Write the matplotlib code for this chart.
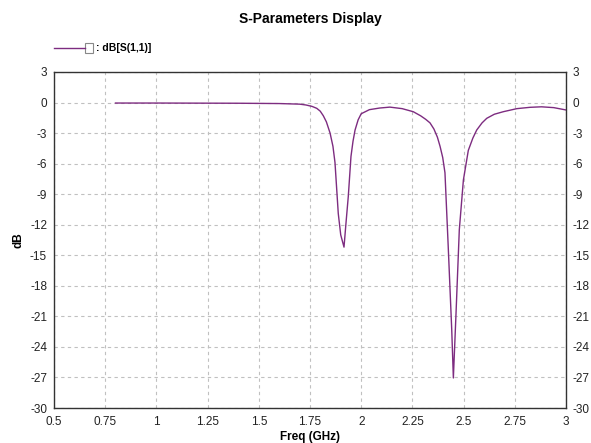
import matplotlib
matplotlib.use("Agg")
import matplotlib.pyplot as plt
from matplotlib.patches import Rectangle

plt.rcParams['font.family'] = ['Liberation Sans', 'DejaVu Sans']
plt.rcParams['axes.unicode_minus'] = False

freq = [0.80, 1.00, 1.20, 1.40, 1.60, 1.70, 1.73, 1.76, 1.783, 1.80, 1.815, 1.83, 1.848, 1.862, 1.872,
        1.888, 1.90, 1.916, 1.925, 1.937, 1.95, 1.96, 1.97, 1.985, 2.00, 2.04, 2.09, 2.14, 2.20, 2.254,
        2.29, 2.315, 2.336, 2.355, 2.372, 2.385, 2.398, 2.409, 2.425, 2.442, 2.45, 2.463, 2.479, 2.499,
        2.523, 2.545, 2.564, 2.59, 2.613, 2.65, 2.694, 2.76, 2.824, 2.88, 2.94, 3.00]
s11_db = [-0.05, -0.05, -0.06, -0.07, -0.1, -0.16, -0.24, -0.38, -0.57, -0.85, -1.3, -1.9, -3.0, -4.3, -5.9,
          -10.9, -13.0, -14.2, -12.0, -9.2, -5.3, -3.8, -2.7, -1.7, -1.1, -0.7, -0.54, -0.45, -0.6, -0.9,
          -1.3, -1.65, -2.0, -2.6, -3.4, -4.3, -5.4, -6.9, -14.2, -22.3, -27.05, -20.7, -12.5, -7.6,
          -4.7, -3.5, -2.7, -2.0, -1.55, -1.15, -0.9, -0.6, -0.47, -0.42, -0.5, -0.73]

xticks = [0.5, 0.75, 1, 1.25, 1.5, 1.75, 2, 2.25, 2.5, 2.75, 3]
xticklabels = ['0.5', '0.75', '1', '1.25', '1.5', '1.75', '2', '2.25', '2.5', '2.75', '3']
yticks = list(range(-30, 4, 3))

fig = plt.figure(figsize=(5.91, 4.43), dpi=100)
ax = fig.add_axes([0.0914, 0.079, 0.8663, 0.7585])
line_color = '#7d2c80'
ax.plot(freq, s11_db, color=line_color, lw=1.0)
ax.set_xlim(0.5, 3)
ax.set_ylim(-30, 3)
ax.set_xticks(xticks)
ax.set_xticklabels(xticklabels)
ax.set_yticks(yticks)
ax.grid(True, color='#c0c0c0', ls=(0, (3, 3)), lw=0.8)
ax.tick_params(axis='both', length=0, labelsize=8.5, colors='#222222', pad=6)
ax.tick_params(axis='y', labelright=True, pad=5)
for s in ['left', 'bottom', 'right', 'top']:
    ax.spines[s].set_color('#333333')
    ax.spines[s].set_linewidth(1.0)
ax.set_xlabel('Freq (GHz)', fontsize=8.5, fontweight='bold', labelpad=2)
ax.set_ylabel('dB', fontsize=8.5, fontweight='bold', labelpad=4)

fig.text(0.525, 0.957, 'S-Parameters Display', ha='center', va='center', fontsize=10, fontweight='bold')

# legend
fig.add_artist(plt.Line2D([0.092, 0.143], [0.891, 0.891], color=line_color, lw=1.0, transform=fig.transFigure))
fig.add_artist(Rectangle((0.144, 0.880), 0.014, 0.022, fill=False, edgecolor='#888888', lw=0.8, transform=fig.transFigure))
fig.text(0.162, 0.891, ': dB[S(1,1)]', ha='left', va='center', fontsize=7.5, fontweight='bold')

fig.savefig('out.png', dpi=100)
